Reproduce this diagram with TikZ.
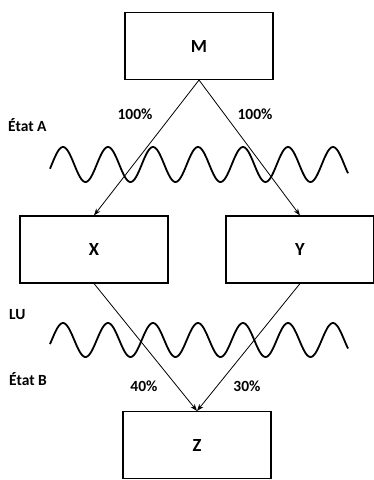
\documentclass[tikz,border=0pt]{standalone}
\usepackage{fontspec}
\setmainfont{Carlito}
\usetikzlibrary{arrows.meta}
\begin{document}
\begin{tikzpicture}[x=1pt,y=-1pt,
  box/.style={draw, line width=1.1pt, minimum width=148pt, minimum height=67pt, inner sep=0pt, font=\bfseries\fontsize{18.5}{22}\selectfont},
  lbl/.style={font=\bfseries\fontsize{15.5}{18}\selectfont, inner sep=0pt},
  arr/.style={line width=0.8pt, -{Stealth[length=7pt,width=5pt]}},
  wave/.style={line width=1.8pt, smooth, samples=240}]
\useasboundingbox (0,0) rectangle (374,480);
\node[box] (M) at (199,46) {M};
\node[box] (X) at (94,249.5) {X};
\node[box] (Y) at (300,249.5) {Y};
\node[box] (Z) at (197,445) {Z};
\draw[arr] (M.south) -- (X.north);
\draw[arr] (M.south) -- (Y.north);
\draw[arr] (X.south) -- (Z.north);
\draw[arr] (Y.south) -- (Z.north);
\draw[wave] plot[domain=50:348] (\x, {164.5 - 17.5*cos(8*(\x-63))});
\draw[wave] plot[domain=50:348] (\x, {340 - 17*cos(8*(\x-63))});
\node[lbl, anchor=west] (ea) at (8,125) {État A};
\node[lbl] (p1) at (135,114) {100\%};
\node[lbl] (p2) at (255,114) {100\%};
\node[lbl, anchor=west] (lu) at (9,315) {LU};
\node[lbl, anchor=west] (eb) at (9,379) {État B};
\node[lbl] (p3) at (144,386) {40\%};
\node[lbl] (p4) at (247,386) {30\%};
\end{tikzpicture}
\end{document}
